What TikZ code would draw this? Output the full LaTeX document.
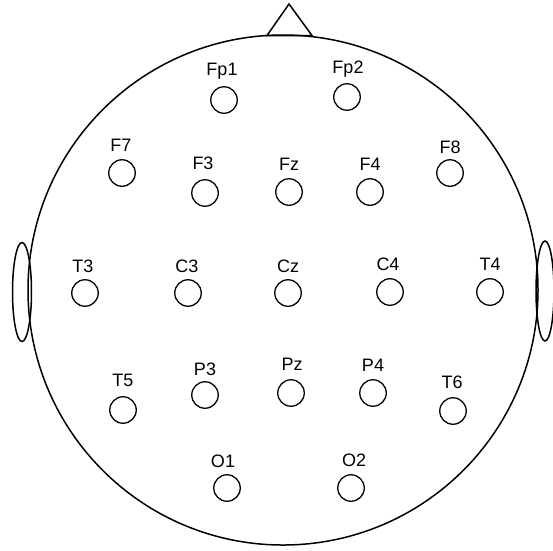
\documentclass[tikz,border=0pt]{standalone}
\usepackage{fontspec}
\setmainfont{Liberation Sans}
\usetikzlibrary{shapes.geometric}
\begin{document}
\begin{tikzpicture}[x=1pt,y=-1pt,
  electrode/.style={circle,draw,line width=1.3pt,minimum size=26.5pt,inner sep=0pt},
  elabel/.style={font=\fontsize{18}{18}\selectfont,inner sep=0pt},
  outline/.style={line width=1.5pt}]
\useasboundingbox (0,0) rectangle (553,550);
% head
\node[circle,draw,outline,minimum size=510pt,inner sep=0pt] (head) at (283,290) {};
% nose
\coordinate (noseL) at (267,35.5);
\coordinate (noseT) at (289,4);
\coordinate (noseR) at (312,35.5);
\draw[outline,line join=miter] (noseL) -- (noseT) -- (noseR) -- cycle;
% ears
\node[ellipse,draw,outline,minimum width=19pt,minimum height=99pt,inner sep=0pt] (earL) at (22,292) {};
\node[ellipse,draw,outline,minimum width=18pt,minimum height=100pt,inner sep=0pt] (earR) at (545,291) {};
% electrodes
\foreach \n/\x/\y/\lx/\ly in {
  Fp1/224/100/222/71, Fp2/347/97/348/69,
  F7/122/173/121/145, F3/205/193/203/163, Fz/289/192/289/164, F4/370/192/370/164, F8/450/173/450/147,
  T3/85/293/83/266, C3/188/293/187/266, Cz/288/293/288/266, C4/390/292/388/264, T4/490/292/490/264,
  T5/123/410/123/380, P3/205/395/205/369, Pz/291/393/292/364, P4/373/393/373/365, T6/453/411/452/382,
  O1/227/488/223/461, O2/351/488/354/460} {
  \node[electrode] (\n) at (\x,\y) {};
  \node[elabel] (\n-label) at (\lx,\ly) {\n};
}
\end{tikzpicture}
\end{document}
